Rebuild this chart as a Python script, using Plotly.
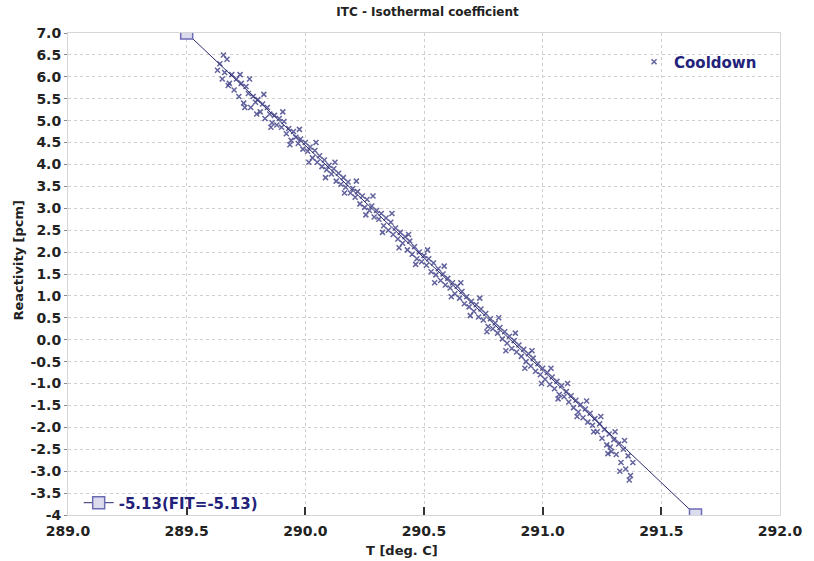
import plotly.graph_objects as go

temp = [
    289.63, 289.64, 289.65, 289.66, 289.67, 289.68, 289.69,
    289.70, 289.71, 289.72, 289.73, 289.74, 289.75, 289.76, 289.77, 289.78, 289.79,
    289.80, 289.81, 289.82, 289.83, 289.84, 289.85, 289.86, 289.87, 289.88, 289.89,
    289.90, 289.91, 289.92, 289.93, 289.94, 289.95, 289.96, 289.97, 289.98, 289.99,
    290.00, 290.01, 290.02, 290.03, 290.04, 290.05, 290.06, 290.07, 290.08, 290.09,
    290.10, 290.11, 290.12, 290.13, 290.14, 290.15, 290.16, 290.17, 290.18, 290.19,
    290.20, 290.21, 290.22, 290.23, 290.24, 290.25, 290.26, 290.27, 290.28, 290.29,
    290.30, 290.31, 290.32, 290.33, 290.34, 290.35, 290.36, 290.37, 290.38, 290.39,
    290.40, 290.41, 290.42, 290.43, 290.44, 290.45, 290.46, 290.47, 290.48, 290.49,
    290.50, 290.51, 290.52, 290.53, 290.54, 290.55, 290.56, 290.57, 290.58, 290.59,
    290.60, 290.61, 290.62, 290.63, 290.64, 290.65, 290.66, 290.67, 290.68, 290.69,
    290.70, 290.71, 290.72, 290.73, 290.74, 290.75, 290.76, 290.77, 290.78, 290.79,
    290.80, 290.81, 290.82, 290.83, 290.84, 290.85, 290.86, 290.87, 290.88, 290.89,
    290.90, 290.91, 290.92, 290.93, 290.94, 290.95, 290.96, 290.97, 290.98, 290.99,
    291.00, 291.01, 291.02, 291.03, 291.04, 291.05, 291.06, 291.07, 291.08, 291.09,
    291.10, 291.11, 291.12, 291.13, 291.14, 291.15, 291.16, 291.17, 291.18, 291.19,
    291.20, 291.21, 291.22, 291.23, 291.24, 291.25, 291.26, 291.27, 291.28, 291.29,
    291.30, 291.31, 291.32, 291.33, 291.34, 291.35, 291.36, 291.37, 291.38,
    289.655, 289.675, 289.725, 289.745, 289.765, 289.795, 289.825, 289.855, 289.905,
    289.935, 289.975, 290.015, 290.045, 290.085, 290.125, 290.165, 290.215, 290.255,
    290.285, 290.325, 290.365, 290.395, 290.435, 290.465, 290.515, 290.545, 290.585,
    290.615, 290.655, 290.695, 290.735, 290.765, 290.815, 290.845, 290.885, 290.925,
    290.955, 290.995, 291.035, 291.065, 291.105, 291.145, 291.185, 291.215, 291.245,
    291.275, 291.305, 291.325, 291.345, 291.365, 291.285,
]
reactivity = [
    6.15, 6.30, 5.95, 6.10, 6.40, 5.85, 6.05,
    5.70, 5.95, 5.55, 5.85, 5.40, 5.78, 5.62, 5.30, 5.55, 5.42,
    5.48, 5.20, 5.38, 5.05, 5.30, 5.15, 4.95, 5.12, 4.90, 5.05,
    4.85, 4.98, 4.70, 4.82, 4.55, 4.75, 4.62, 4.48, 4.58, 4.35,
    4.50, 4.30, 4.40, 4.15, 4.32, 4.05, 4.20, 3.95, 4.10, 3.88,
    3.98, 3.78, 3.90, 3.62, 3.80, 3.55, 3.70, 3.48, 3.60, 3.35,
    3.45, 3.25, 3.38, 3.10, 3.28, 3.02, 3.20, 2.95, 3.05, 2.80,
    2.95, 2.75, 2.88, 2.60, 2.78, 2.50, 2.68, 2.40, 2.55, 2.30,
    2.45, 2.20, 2.35, 2.05, 2.25, 1.95, 2.12, 1.85, 2.00, 1.78,
    1.92, 1.70, 1.85, 1.55, 1.75, 1.48, 1.62, 1.35, 1.50, 1.25,
    1.40, 1.18, 1.30, 1.05, 1.22, 0.95, 1.10, 0.82, 0.98, 0.75,
    0.88, 0.65, 0.80, 0.52, 0.70, 0.45, 0.60, 0.30, 0.48, 0.25,
    0.38, 0.15, 0.28, 0.02, 0.18, -0.08, 0.08, -0.20, -0.02, -0.28,
    -0.12, -0.38, -0.22, -0.50, -0.32, -0.60, -0.42, -0.72, -0.55, -0.80,
    -0.65, -0.90, -0.75, -1.02, -0.85, -1.12, -0.95, -1.25, -1.05, -1.30,
    -1.18, -1.42, -1.28, -1.55, -1.38, -1.65, -1.48, -1.78, -1.58, -1.88,
    -1.68, -1.95, -1.80, -2.10, -1.92, -2.25, -2.05, -2.40, -2.15, -2.55,
    -2.28, -2.62, -2.38, -2.80, -2.50, -2.95, -2.65, -3.10, -2.80,
    6.50, 5.80, 6.05, 5.30, 5.95, 5.15, 5.60, 4.85, 5.20,
    4.45, 4.80, 4.05, 4.50, 3.70, 4.05, 3.35, 3.62, 2.85,
    3.28, 2.45, 2.88, 2.10, 2.40, 1.72, 2.05, 1.30, 1.68,
    0.98, 1.30, 0.55, 0.95, 0.18, 0.50, -0.25, 0.15, -0.65,
    -0.25, -1.00, -0.65, -1.35, -1.00, -1.75, -1.40, -2.10, -1.75,
    -2.60, -2.10, -3.00, -2.30, -3.20, -2.45,
]

# Linear fit end points
fit_temp = [289.5, 291.644]
fit_react = [7.0, -4.0]

title = "ITC - Isothermal coefficient"
x_title = "T [deg. C]"
y_title = "Reactivity [pcm]"
series_name = "Cooldown"
fit_name = "-5.13(FIT=-5.13)"

x_ticks = [289.0, 289.5, 290.0, 290.5, 291.0, 291.5, 292.0]
x_labels = ["289.0", "289.5", "290.0", "290.5", "291.0", "291.5", "292.0"]
y_ticks = [7.0, 6.5, 6.0, 5.5, 5.0, 4.5, 4.0, 3.5, 3.0, 2.5, 2.0, 1.5, 1.0, 0.5,
           0.0, -0.5, -1.0, -1.5, -2.0, -2.5, -3.0, -3.5, -4.0]
y_labels = ["7.0", "6.5", "6.0", "5.5", "5.0", "4.5", "4.0", "3.5", "3.0", "2.5",
            "2.0", "1.5", "1.0", "0.5", "0.0", "-0.5", "-1.0", "-1.5", "-2.0",
            "-2.5", "-3.0", "-3.5", "-4"]

navy = "#22227a"
pt_color = "rgba(70,70,140,0.85)"
tick_font = dict(family="DejaVu Sans", size=14, color="#222222", weight="bold")

fig = go.Figure()
fig.add_trace(go.Scatter(
    x=temp, y=reactivity, mode="markers", name=series_name,
    marker=dict(symbol="x-thin-open", size=5, color=pt_color,
                line=dict(color=pt_color, width=1.5)),
    legend="legend",
))
fig.add_trace(go.Scatter(
    x=fit_temp, y=fit_react, mode="lines+markers", name=fit_name,
    line=dict(color="#2a2a6e", width=1),
    marker=dict(symbol="square", size=12, color="#dcdcee",
                line=dict(color="#6c6cb4", width=1.5)),
    legend="legend2",
))

fig.update_layout(
    width=814, height=561,
    margin=dict(l=68, r=27, t=33, b=46),
    paper_bgcolor="white", plot_bgcolor="white",
    font=dict(family="DejaVu Sans", color="#222222"),
    title=dict(text=title, x=(68 + 787) / 2 / 814, xanchor="center",
               y=1 - 12 / 561, yanchor="middle",
               font=dict(family="DejaVu Sans", size=12, color="#222222", weight="bold")),
    showlegend=True,
    legend=dict(x=0.795, y=0.94, xanchor="left", yanchor="middle",
                bgcolor="rgba(0,0,0,0)", borderwidth=0, itemwidth=30,
                font=dict(family="DejaVu Sans", size=15, color=navy, weight="bold")),
    legend2=dict(x=0.015, y=0.025, xanchor="left", yanchor="middle",
                 bgcolor="rgba(0,0,0,0)", borderwidth=0, itemwidth=30,
                 font=dict(family="DejaVu Sans", size=15, color=navy, weight="bold")),
    annotations=[
        dict(text=x_title, xref="paper", yref="paper", x=0.469, y=-35 / 482,
             xanchor="center", yanchor="middle", showarrow=False,
             font=dict(family="DejaVu Sans", size=13, color="#222222", weight="bold")),
        dict(text=y_title, xref="paper", yref="paper", x=-50 / 719, y=0.529,
             xanchor="center", yanchor="middle", showarrow=False, textangle=-90,
             font=dict(family="DejaVu Sans", size=13, color="#222222", weight="bold")),
    ],
)
fig.update_xaxes(
    range=[289.0, 292.0], tickvals=x_ticks, ticktext=x_labels,
    tickfont=tick_font, ticks="inside", ticklen=8, tickcolor="#333333", tickwidth=1.5,
    ticklabelstandoff=3,
    showgrid=True, gridcolor="#cfcfcf", griddash="dot", gridwidth=1,
    showline=True, linecolor="#d6d6d6", linewidth=1, mirror=True, zeroline=False,
)
fig.update_yaxes(
    range=[-4.0, 7.0], tickvals=y_ticks, ticktext=y_labels,
    tickfont=tick_font, ticks="outside", ticklen=3, tickcolor="#888888",
    showgrid=True, gridcolor="#cfcfcf", griddash="dot", gridwidth=1,
    showline=True, linecolor="#d6d6d6", linewidth=1, mirror=True, zeroline=False,
)

fig.write_html("out.html")
